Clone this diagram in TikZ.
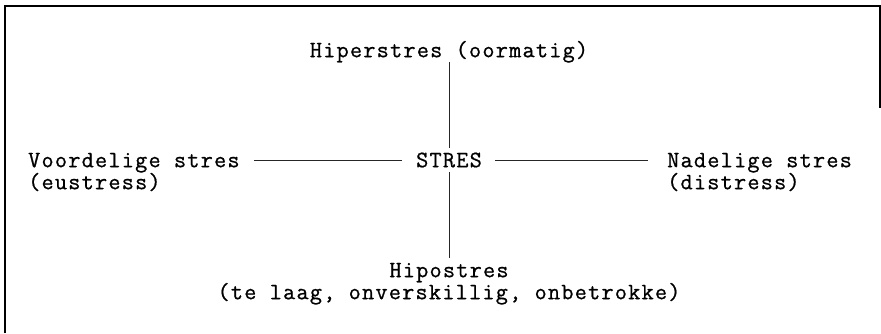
\documentclass[tikz,border=0pt]{standalone}
\usepackage{fontspec}
\newfontfamily\mymono[LetterSpace=5.4,FakeBold=0.8]{Latin Modern Mono}
\begin{document}
\begin{tikzpicture}[x=1pt,y=-1pt,
  lbl/.style={inner sep=0pt,text height=14.4pt,text depth=0pt,font=\mymono\fontsize{23.5}{22}\selectfont},
  conn/.style={line width=1pt,black!85},
  frame/.style={line width=1.6pt,black}]
\useasboundingbox (0,0) rectangle (881,333);
\draw[frame] (5,333) -- (5,6) -- (880,6) -- (880,108);
\node[lbl] (hp) at (449,50) {Hiperstres (oormatig)};
\node[lbl] (st) at (449,160) {STRES};
\node[lbl,anchor=west] (vl) at (28,160) {Voordelige stres};
\node[lbl,anchor=west] (vl2) at (28,182) {(eustress)};
\node[lbl,anchor=west] (nd) at (667,160) {Nadelige stres};
\node[lbl,anchor=west] (nd2) at (667,182) {(distress)};
\node[lbl] (ho) at (449,270) {Hipostres};
\node[lbl] (ho2) at (449,292) {(te laag, onverskillig, onbetrokke)};
\draw[conn] ([yshift=-4.8pt]hp.south) -- ([yshift=4.8pt]st.north);
\draw[conn] ([yshift=-4.8pt]st.south) -- ([yshift=4.8pt]ho.north);
\draw[conn] ([xshift=14pt]vl.east) -- ([xshift=-14pt]st.west);
\draw[conn] ([xshift=13pt]st.east) -- ([xshift=-19pt]nd.west);
\end{tikzpicture}
\end{document}
